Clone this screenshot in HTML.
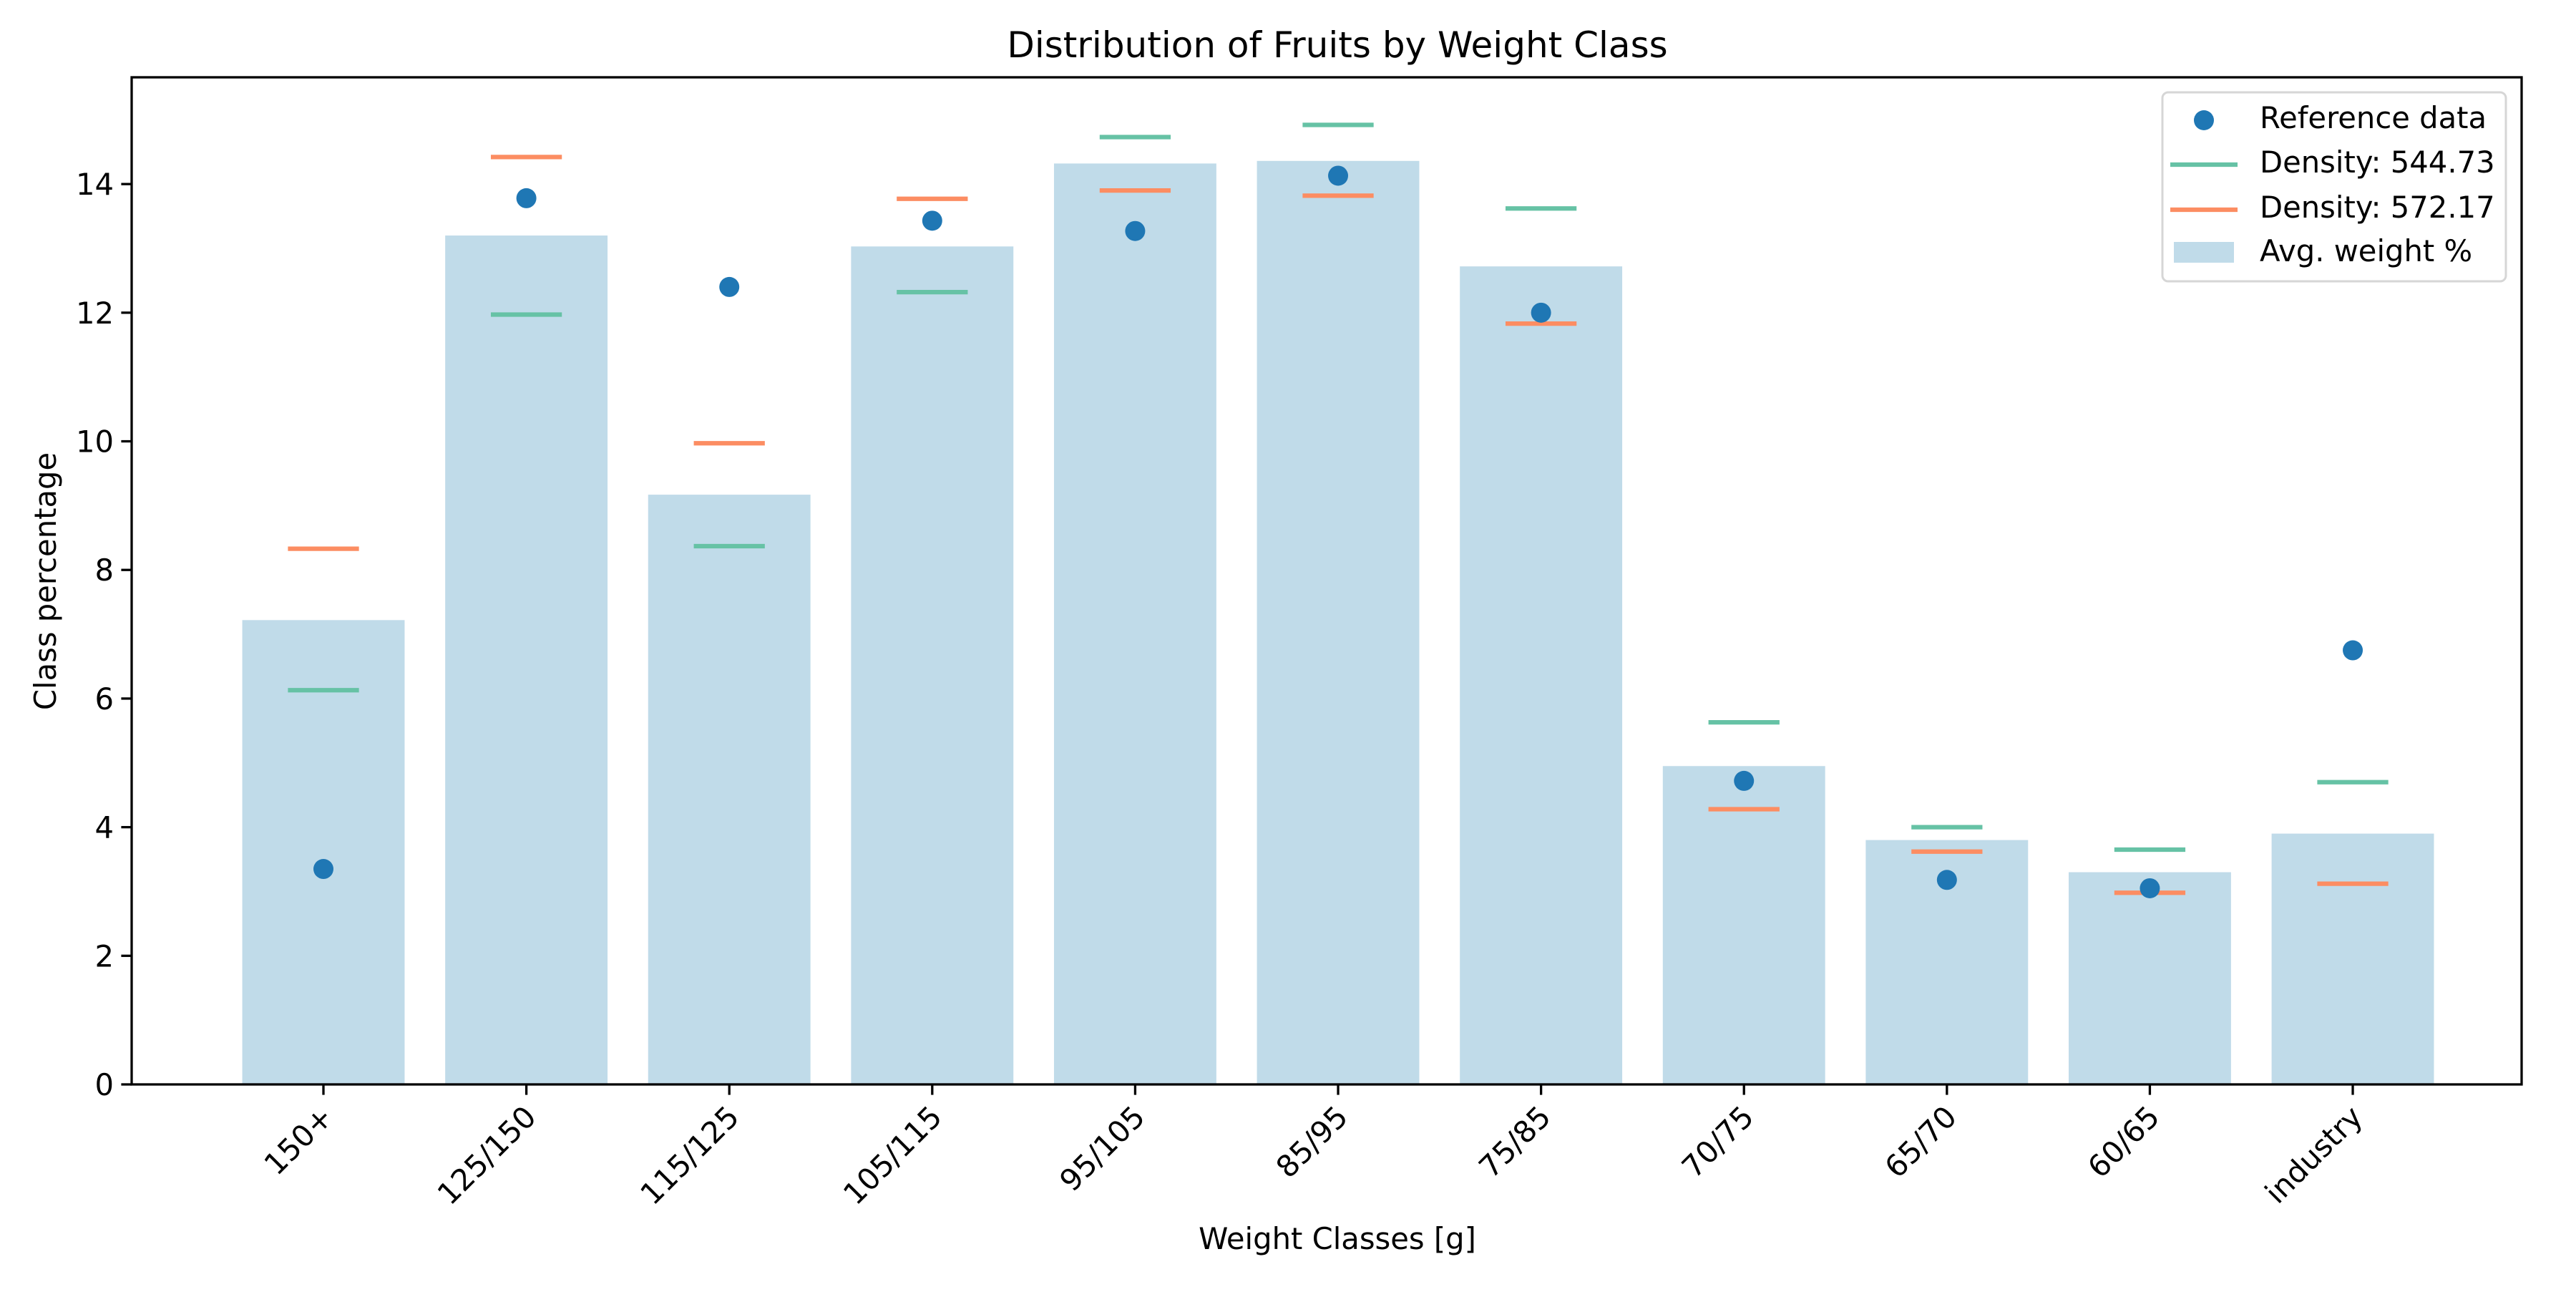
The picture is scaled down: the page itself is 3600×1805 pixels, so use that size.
<!DOCTYPE html>
<html><head><meta charset="utf-8"><style>
body{margin:0;background:#fff}
svg text{font-family:"DejaVu Sans","Liberation Sans",sans-serif;fill:#000}
</style></head><body>
<svg id="chart" width="3600" height="1800" viewBox="0 0 3600 1800" xmlns="http://www.w3.org/2000/svg">
<rect width="3600" height="1800" fill="#fff"/>
<g id="plot"></g>
<text x="1869" y="80" font-size="50" text-anchor="middle">Distribution of Fruits by Weight Class</text>
<text x="1869" y="1745" font-size="41.7" text-anchor="middle">Weight Classes [g]</text>
<text x="78" y="812" font-size="41.7" text-anchor="middle" transform="rotate(-90 78 812)">Class percentage</text>
<g>
<rect x="3022" y="129" width="480" height="264" rx="8" fill="#fff" fill-opacity="0.8" stroke="#d6d6d6" stroke-width="3"/>
<circle cx="3080" cy="168" r="14" fill="#1f77b4"/>
<text x="3158" y="168" font-size="41.7" dominant-baseline="middle">Reference data</text>
<line x1="3033" y1="230" x2="3127" y2="230" stroke="#66c2a5" stroke-width="6.25"/>
<text x="3158" y="230" font-size="41.7" dominant-baseline="middle">Density: 544.73</text>
<line x1="3033" y1="293" x2="3127" y2="293" stroke="#fc8d62" stroke-width="6.25"/>
<text x="3158" y="293" font-size="41.7" dominant-baseline="middle">Density: 572.17</text>
<rect x="3038" y="338" width="84" height="29" fill="#c0dbe9"/>
<text x="3158" y="354" font-size="41.7" dominant-baseline="middle">Avg. weight %</text>
</g>
</svg>
<script>
const categories=["150+","125/150","115/125","105/115","95/105","85/95","75/85","70/75","65/70","60/65","industry"];
const barValues=[7.22,13.2,9.17,13.03,14.32,14.36,12.72,4.95,3.8,3.3,3.9];
const refValues=[3.35,13.78,12.4,13.43,13.27,14.13,12.0,4.72,3.18,3.05,6.75];
const density1=[6.13,11.97,8.37,12.32,14.73,14.92,13.62,5.63,4.0,3.65,4.7];
const density2=[8.33,14.42,9.97,13.77,13.9,13.82,11.83,4.28,3.62,2.98,3.12];
const yTicks=[0,2,4,6,8,10,12,14];

const L=184,R=3524,T=108,B=1515;
const xMin=-0.945,xMax=categories.length-1+0.832,yMax=15.66;
const X=v=>L+(v-xMin)/(xMax-xMin)*(R-L);
const Y=v=>B-v/yMax*(B-T);
const NS="http://www.w3.org/2000/svg";
const g=document.getElementById('plot');
function mk(tag,attrs){const e=document.createElementNS(NS,tag);for(const k in attrs)e.setAttribute(k,attrs[k]);g.appendChild(e);return e;}
const u=X(1)-X(0);
barValues.forEach((v,i)=>{
 const r=mk('rect',{x:X(i-0.4),y:Y(v),width:0.8*u,height:Y(0)-Y(v),fill:'#c0dbe9'});
 
 
});
density1.forEach((v,i)=>{
 const l=mk('line',{x1:X(i-0.175),x2:X(i+0.175),y1:Y(v),y2:Y(v),stroke:'#66c2a5','stroke-width':6.25});
 
 
});
density2.forEach((v,i)=>{
 const l=mk('line',{x1:X(i-0.175),x2:X(i+0.175),y1:Y(v),y2:Y(v),stroke:'#fc8d62','stroke-width':6.25});
 
 
});
refValues.forEach((v,i)=>{
 const c=mk('circle',{cx:X(i),cy:Y(v),r:14,fill:'#1f77b4'});
 
 
});
const ax=mk('rect',{x:L,y:T,width:R-L,height:B-T,fill:'none',stroke:'#000','stroke-width':3.3});


yTicks.forEach(t=>{
 const l=mk('line',{x1:L-14.6,x2:L,y1:Y(t),y2:Y(t),stroke:'#000','stroke-width':3.3});
 
 
 const tx=mk('text',{x:L-25,y:Y(t)+15,'font-size':41.7,'text-anchor':'end'});
 tx.textContent=t;
 
 
});
categories.forEach((c,i)=>{
 const l=mk('line',{x1:X(i),x2:X(i),y1:B,y2:B+14.6,stroke:'#000','stroke-width':3.3});
 
 
 const x=X(i)+16,y=B+48;
 const tx=mk('text',{x:x,y:y,'font-size':41.7,'text-anchor':'end',transform:`rotate(-45 ${x} ${y})`});
 tx.textContent=c;
 
 
});
</script>
</body></html>
